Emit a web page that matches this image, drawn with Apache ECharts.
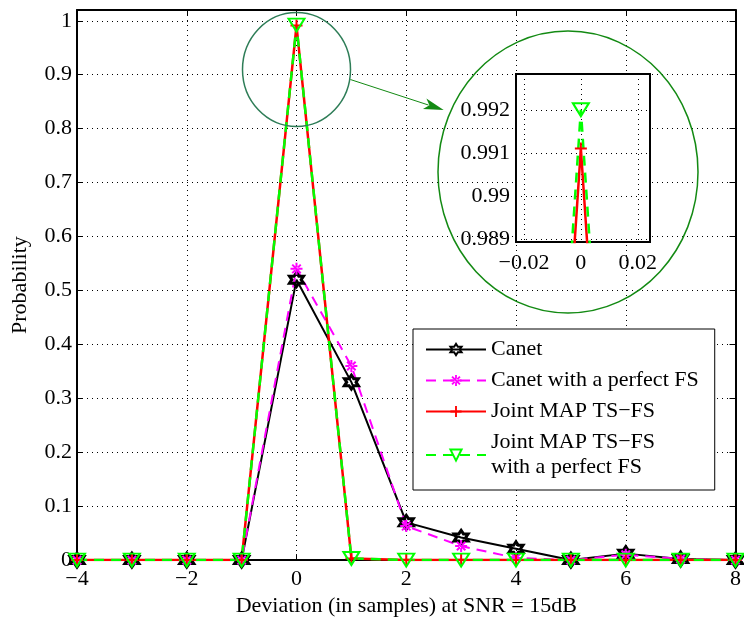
<!DOCTYPE html>
<html><head><meta charset="utf-8">
<script src="https://cdn.jsdelivr.net/npm/echarts@6/dist/echarts.min.js"></script>
<style>html,body{margin:0;padding:0;background:#fff}#c{width:744px;height:622px}</style>
</head><body><div id="c"></div>
<script>
const xVals = [-4,-3,-2,-1,0,1,2,3,4,5,6,7,8];
const canet = [0,0,0,0,0.52,0.33,0.07,0.042,0.021,0,0.012,0.002,0];
const canetFS = [0,0,0,0,0.54,0.36,0.063,0.026,0.004,0,0.01,0.002,0];
const jointMAP = [0,0,0,0,0.9911,0.003,0,0,0,0,0,0,0];
const jointMAPFS = [0,0,0,0,0.9920,0.003,0,0,0,0,0,0,0];
const seriesNames = ['Canet','Canet with a perfect FS','Joint MAP TS\u2212FS','Joint MAP TS\u2212FS\nwith a perfect FS'];
const insetXTicks = [-0.02,0,0.02];
const insetYTicks = [0.989,0.99,0.991,0.992];
const xTitle = 'Deviation (in samples) at SNR = 15dB';
const yTitle = 'Probability';

const FONT = 'Liberation Serif';
const pair = arr => xVals.map((x,i)=>[x,arr[i]]);
const fmt = v => { const s = String(Number(Number(v).toFixed(4))); return s.replace('-', '\u2212'); };

const STAR = 'path://M0,-10 L2.887,-5 L8.66,-5 L5.77,0 L8.66,5 L2.887,5 L0,10 L-2.887,5 L-8.66,5 L-5.77,0 L-8.66,-5 L-2.887,-5 Z';
const AST = 'path://M-1,-6 L1,-6 L1,6 L-1,6 Z M-6,-1 L6,-1 L6,1 L-6,1 Z M-3.53,-4.95 L4.95,3.53 L3.53,4.95 L-4.95,-3.53 Z M-3.53,4.95 L4.95,-3.53 L3.53,-4.95 L-4.95,3.53 Z';
const PLUS = 'path://M-1,-6 L1,-6 L1,-1 L6,-1 L6,1 L1,1 L1,6 L-1,6 L-1,1 L-6,1 L-6,-1 L-1,-1 Z';
const TRI = 'path://M-8,-6 L8,-6 L0,6 Z';

const lab = {color:'#000', fontFamily:FONT, fontSize:22};
const dotted = {show:true, lineStyle:{color:'#000', type:[1,4], width:1}};
const tick = {show:true, inside:true, length:6, lineStyle:{color:'#000', width:1}};
const aLine = {show:true, onZero:false, lineStyle:{color:'#000', width:2}};

function mk(name, data, xi, yi, sym, size, item, line, z){
  return {type:'line', name, data, xAxisIndex:xi, yAxisIndex:yi, symbol:sym, symbolSize:size,
    symbolKeepAspect:false, itemStyle:item, lineStyle:line, animation:false, clip:true, z:z||2};
}
const sBlack = [STAR, 14, {color:'rgba(0,0,0,0)', borderColor:'#000', borderWidth:3}, {color:'#000', width:2}];
const sMag = [AST, 12, {color:'#ff00ff'}, {color:'#ff00ff', width:2, type:[10,7]}];
const sRed = [PLUS, 12, {color:'#ff0000'}, {color:'#ff0000', width:2.5}];
const sGreen = [TRI, [16,13], {color:'rgba(0,0,0,0)', borderColor:'#00ff00', borderWidth:2}, {color:'#00ff00', width:2.5, type:[10,7]}];

const chart = echarts.init(document.getElementById('c'), null, {renderer:'canvas'});
chart.setOption({
  backgroundColor:'#fff',
  animation:false,
  grid:[
    {left:77, right:4, top:10, bottom:59, show:false},
    {left:516, top:74, width:134, height:168, show:true, backgroundColor:'#fff', borderColor:'#000', borderWidth:2, z:5}
  ],
  xAxis:[
    {type:'value', gridIndex:0, min:-4, max:8, interval:2, position:'bottom', axisLine:aLine, axisTick:tick,
     axisLabel:Object.assign({margin:8, formatter:fmt}, lab), splitLine:dotted,
     name:xTitle, nameLocation:'middle', nameGap:34, nameTextStyle:lab},
    {type:'value', gridIndex:0, min:-4, max:8, interval:2, position:'top', axisLine:aLine, axisTick:tick,
     axisLabel:{show:false}, splitLine:{show:false}},
    {type:'value', gridIndex:1, min:-0.0228, max:0.0243, position:'bottom', z:6,
     axisLine:{show:false, onZero:false}, axisTick:{show:false, customValues:insetXTicks},
     axisLabel:Object.assign({margin:10, formatter:fmt, customValues:insetXTicks}, lab),
     splitLine:Object.assign({customValues:insetXTicks}, dotted)}
  ],
  yAxis:[
    {type:'value', gridIndex:0, min:0, max:1.02, interval:0.1, position:'left', axisLine:aLine, axisTick:tick,
     axisLabel:Object.assign({margin:5, showMaxLabel:false, formatter:v => v>1.001 ? '' : fmt(v)}, lab), splitLine:dotted,
     name:yTitle, nameLocation:'middle', nameGap:46, nameTextStyle:lab},
    {type:'value', gridIndex:0, min:0, max:1.02, interval:0.1, position:'right', axisLine:aLine, axisTick:tick,
     axisLabel:{show:false}, splitLine:{show:false}},
    {type:'value', gridIndex:1, min:0.98893, max:0.99283, position:'left', z:6,
     axisLine:{show:false, onZero:false}, axisTick:{show:false, customValues:insetYTicks},
     axisLabel:Object.assign({margin:6, formatter:fmt, customValues:insetYTicks}, lab),
     splitLine:Object.assign({customValues:insetYTicks}, dotted)}
  ],
  legend:{orient:'vertical', left:413, top:329, itemWidth:60, itemHeight:14, itemGap:6,
    padding:[8,16,10,12], backgroundColor:'#fff', borderColor:'#000', borderWidth:1, selectedMode:false,
    textStyle:{color:'#000', fontFamily:FONT, fontSize:22, lineHeight:25}, data:seriesNames, z:20},
  series:[
    mk(seriesNames[0], pair(canet), 0, 0, ...sBlack),
    mk(seriesNames[1], pair(canetFS), 0, 0, ...sMag),
    mk(seriesNames[2], pair(jointMAP), 0, 0, ...sRed),
    mk(seriesNames[3], pair(jointMAPFS), 0, 0, ...sGreen),
    mk(seriesNames[2], pair(jointMAP), 2, 2, ...sRed, 7),
    mk(seriesNames[3], pair(jointMAPFS), 2, 2, ...sGreen, 7)
  ]
});

// annotations: zoom circle around the peak, arrow, circle around inset
const c0 = chart.convertToPixel({xAxisIndex:0, yAxisIndex:0}, [0, 0.9096]);
const big = {cx:568, cy:172, rx:130, ry:141};
const small = {cx:c0[0], cy:c0[1], rx:54, ry:57};
const a0 = [small.cx + 54*0.999, small.cy + 10];
const tip = [443.7, 110];
const dx = tip[0]-a0[0], dy = tip[1]-a0[1], L = Math.hypot(dx,dy), ux = dx/L, uy = dy/L;
const bx = tip[0]-20*ux, by = tip[1]-20*uy, px = -uy*5.5, py = ux*5.5;
chart.setOption({graphic:[
  {type:'ellipse', shape:small, style:{fill:'none', stroke:'#2e7d57', lineWidth:1.5}, z:100, silent:true},
  {type:'ellipse', shape:big, style:{fill:'none', stroke:'#138a13', lineWidth:1.5}, z:100, silent:true},
  {type:'line', shape:{x1:a0[0], y1:a0[1], x2:bx+4*ux, y2:by+4*uy}, style:{stroke:'#138a13', lineWidth:1}, z:100, silent:true},
  {type:'polygon', shape:{points:[tip,[bx+px,by+py],[bx+5*ux,by+5*uy],[bx-px,by-py]]}, style:{fill:'#138a13'}, z:100, silent:true}
]});
</script></body></html>
